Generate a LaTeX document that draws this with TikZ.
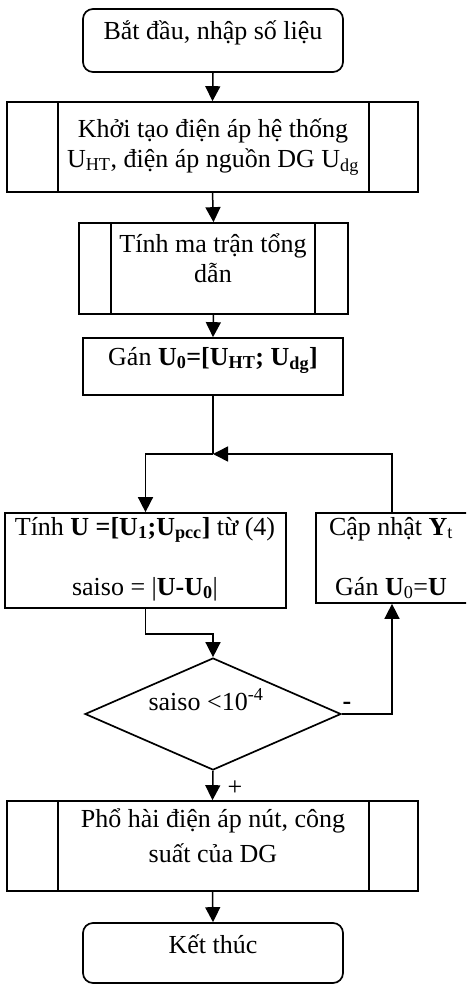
\documentclass[tikz,border=0pt]{standalone}
\usepackage{fontspec}
\setmainfont{Liberation Serif}
\usetikzlibrary{shapes.geometric,arrows.meta,calc}
\tikzset{
  boxline/.style={draw, line width=1.7pt, inner sep=0pt},
  termbox/.style={boxline, rounded corners=10pt},
  conn/.style={line width=1.5pt},
  arr/.style={conn, -{Triangle[length=15pt,width=15pt]}},
  txt/.style={anchor=base, inner sep=0pt, font=\fontsize{26}{30}\selectfont},
}
\begin{document}
\begin{tikzpicture}[x=1pt,y=-1pt]
\clip (0,0) rectangle (466,985);
\fill[white] (0,0) rectangle (466,985);
% boxes
\node[termbox, minimum width=260pt, minimum height=63pt] (start) at (213,40.5) {};
\node[boxline, minimum width=411pt, minimum height=90pt] (init) at (212.5,147) {};
\node[boxline, minimum width=269pt, minimum height=91pt] (ymat) at (213.5,268.5) {};
\node[boxline, minimum width=260pt, minimum height=57pt] (gan) at (213,366.5) {};
\node[boxline, minimum width=281pt, minimum height=95pt] (calcU) at (145.5,560.5) {};
\node[boxline, minimum width=152pt, minimum height=90pt] (upd) at (392,558) {};
\node[boxline, shape=diamond, minimum width=256pt, minimum height=112pt] (dec) at (213,714) {};
\node[boxline, minimum width=411pt, minimum height=90pt] (phs) at (212.5,846) {};
\node[termbox, minimum width=260pt, minimum height=60pt] (fin) at (213,953) {};
% predefined-process side bars
\foreach \n/\o in {init/52, phs/52}{
  \draw[line width=1.7pt] ($(\n.north west)+(\o,0)$) -- ($(\n.south west)+(\o,0)$);
  \draw[line width=1.7pt] ($(\n.north east)+(-50,0)$) -- ($(\n.south east)+(-50,0)$);
}
\draw[line width=1.7pt] ($(ymat.north west)+(33,0)$) -- ($(ymat.south west)+(33,0)$);
\draw[line width=1.7pt] ($(ymat.north east)+(-34,0)$) -- ($(ymat.south east)+(-34,0)$);
% texts
\node[txt] (t1) at (213,39) {Bắt đầu, nhập số liệu};
\node[txt] (t2) at (213,137) {Khởi tạo điện áp hệ thống};
\node[txt] (t2b) at (213,167) {U\textsubscript{HT}, điện áp nguồn DG U\textsubscript{dg}};
\node[txt] (t3) at (213,252) {Tính ma trận tổng};
\node[txt] (t3b) at (213,282) {dẫn};
\node[txt] (t4) at (213,365) {Gán \textbf{U\textsubscript{0}=[U\textsubscript{HT}; U\textsubscript{dg}]}};
\node[txt] (t5) at (145,535) {Tính \textbf{U =[U\textsubscript{1};U\textsubscript{pcc}]} từ (4)};
\node[txt] (t5b) at (145,595) {saiso = |\textbf{U-U\textsubscript{0}}|};
\node[txt] (t6) at (391,535) {Cập nhật \textbf{Y}\textsubscript{t}};
\node[txt] (t6b) at (391,595) {Gán \textbf{U}\textsubscript{0}=\textbf{U}};
\node[txt] (t7) at (206,710) {saiso <10\textsuperscript{-4}};
\node[txt] (t8) at (213,827) {Phổ hài điện áp nút, công};
\node[txt] (t8b) at (213,862) {suất của DG};
\node[txt] (t9) at (213,953) {Kết thúc};
\node[txt] (minus) at (347,709) {\textbf{-}};
\node[txt] (plus) at (235,795) {+};
% connectors
\coordinate (j) at (213,454);
\draw[arr] (start.south) -- (init.north);
\draw[arr] (init.south) -- (ymat.north);
\draw[arr] (ymat.south) -- (gan.north);
\draw[conn] (gan.south) -- (j);
\draw[arr] (j) -| (calcU.north);
\draw[arr] (upd.north) |- (j);
\draw[arr] (calcU.south) -- ++(0,25) -| (dec.north);
\draw[arr] (dec.east) -| (upd.south);
\draw[arr] (dec.south) -- (phs.north);
\draw[arr] (phs.south) -- (fin.north);
\end{tikzpicture}
\end{document}
